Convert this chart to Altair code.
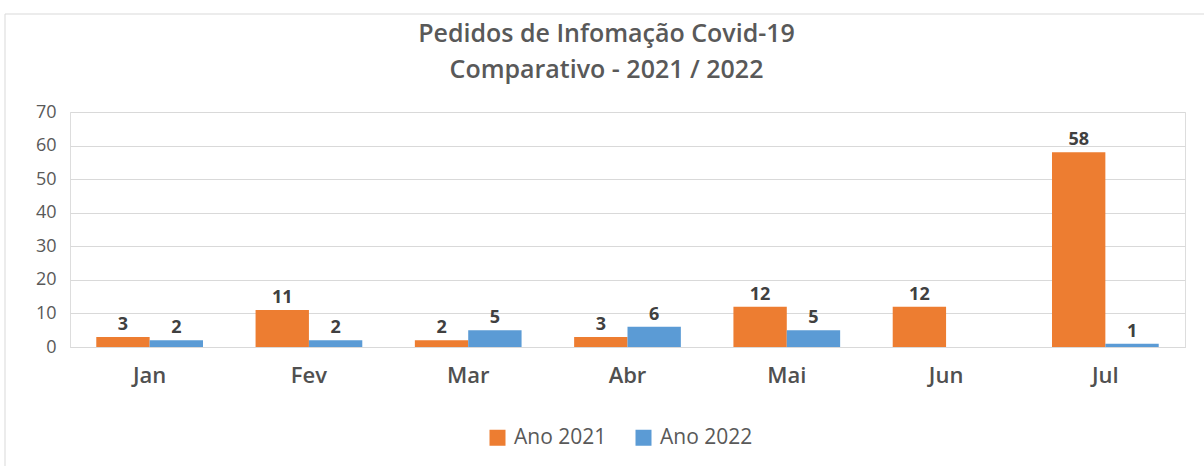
import altair as alt
import pandas as pd

months = ["Jan", "Fev", "Mar", "Abr", "Mai", "Jun", "Jul"]
ano_2021 = [3, 11, 2, 3, 12, 12, 58]
ano_2022 = [2, 2, 5, 6, 5, None, 1]
series = ["Ano 2021", "Ano 2022"]
colors = ["#ED7D31", "#5B9BD5"]

rows = []
for m, a, b in zip(months, ano_2021, ano_2022):
    if a is not None:
        rows.append({"mes": m, "serie": series[0], "valor": a})
    if b is not None:
        rows.append({"mes": m, "serie": series[1], "valor": b})
df = pd.DataFrame(rows)

FONT = "Open Sans"

x = alt.X("mes:N", sort=months, title=None,
          scale=alt.Scale(paddingInner=0.33, paddingOuter=0.165),
          axis=alt.Axis(labelAngle=0, labelFontSize=22, labelFontWeight=600,
                        labelColor="#505050", labelPadding=18, ticks=False,
                        domainColor="#D9D9D9", labelFont=FONT))
xoff = alt.XOffset("serie:N", sort=series, scale=alt.Scale(paddingInner=0, paddingOuter=0))
y = alt.Y("valor:Q", title=None,
          scale=alt.Scale(domain=[0, 70]),
          axis=alt.Axis(values=[0, 10, 20, 30, 40, 50, 60, 70], labelFontSize=18,
                        labelColor="#595959", labelPadding=14, ticks=False,
                        domain=False, gridColor="#D9D9D9", gridWidth=1.2, labelFont=FONT))
color = alt.Color("serie:N", sort=series,
                  scale=alt.Scale(domain=series, range=colors),
                  legend=alt.Legend(title=None, orient="none", legendX=417, legendY=315,
                                    direction="horizontal", symbolType="square",
                                    symbolSize=256, symbolStrokeWidth=0,
                                    labelFontSize=21, labelFontWeight=500,
                                    labelColor="#595959",
                                    labelFont=FONT, labelOffset=6, columnPadding=26))

bars = alt.Chart(df).mark_bar().encode(x=x, xOffset=xoff, y=y, color=color)
labels = alt.Chart(df).mark_text(dy=-12, fontSize=18, fontWeight="bold",
                                 color="#404040", font=FONT).encode(
    x=x, xOffset=xoff, y=y, text="valor:Q")

frame = alt.Chart(pd.DataFrame({"k": [0]})).mark_rect(
    fill="transparent", stroke="#D9D9D9", strokeWidth=1).encode(
    x=alt.value(-65), x2=alt.value(1150), y=alt.value(-98), y2=alt.value(400))

chart = alt.layer(frame, bars, labels).properties(
    width=1115, height=235,
    autosize=alt.AutoSizeParams(type="none"),
    padding={"left": 70, "top": 112, "right": 19, "bottom": 119},
    title=alt.TitleParams(
        text=["Pedidos de Infomação Covid-19", "Comparativo - 2021 / 2022"],
        fontSize=25, fontWeight=600, color="#595959", font=FONT,
        anchor="middle", frame="group", dx=-21, lineHeight=36, offset=-69),
).configure_view(stroke=None).configure(background="white")

chart.save("out.html", embed_options={"renderer": "svg", "actions": False})
